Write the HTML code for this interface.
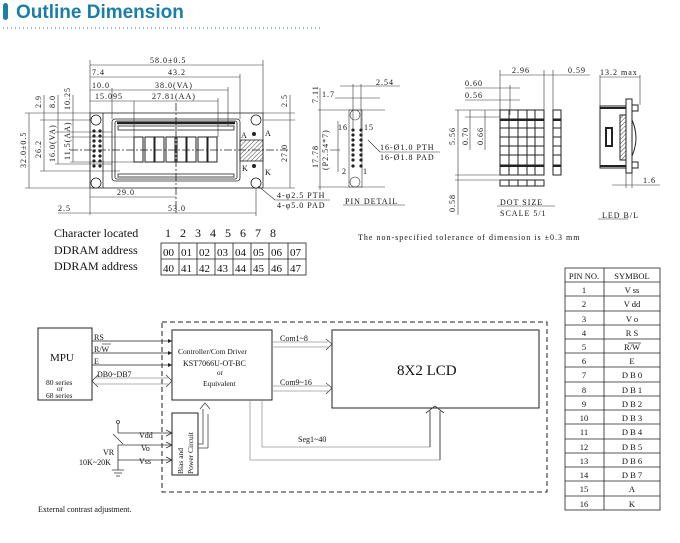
<!DOCTYPE html>
<html><head><meta charset="utf-8"><style>
html,body{margin:0;padding:0;background:#fff;width:680px;height:543px;overflow:hidden}
svg{display:block}
text{font-family:"Liberation Serif",serif;fill:#111}
.s{font-size:8px;letter-spacing:1px}
</style></head><body>
<svg width="680" height="543" viewBox="0 0 680 543" xmlns="http://www.w3.org/2000/svg">
<defs>
<marker id="ar" viewBox="0 0 6 6" refX="6" refY="3" markerWidth="5" markerHeight="5" orient="auto-start-reverse"><path d="M0,0L6,3L0,6z" fill="#222"/></marker>
<pattern id="h" width="3" height="3" patternUnits="userSpaceOnUse" patternTransform="rotate(45)"><line x1="0" y1="0" x2="0" y2="3" stroke="#444" stroke-width="1"/></pattern>
</defs>
<!-- title -->
<rect x="3" y="3" width="5" height="17" rx="2.5" fill="#1a7fa8"/>
<text x="16" y="18" style="font-family:'Liberation Sans',sans-serif;font-size:19px;font-weight:bold;fill:#1a7fa8">Outline Dimension</text>
<line x1="3" y1="28" x2="320" y2="28" stroke="#1a7fa8" stroke-dasharray="1 3"/>

<g stroke="#222" stroke-width="0.8" fill="none">
<rect x="90" y="113" width="173" height="75"/>
<rect x="112" y="119" width="128" height="62" rx="3"/>
<rect x="115" y="121" width="122" height="58" rx="2"/>
<line x1="117" y1="123" x2="235" y2="123" stroke-width="2.5"/>
<rect x="118" y="126" width="116" height="4"/>
<rect x="118" y="174" width="116" height="3"/>
<line x1="103" y1="113" x2="103" y2="188"/>
<circle cx="96" cy="120" r="5"/><circle cx="96" cy="183" r="5"/>
<circle cx="256" cy="120" r="5"/><circle cx="256" cy="183" r="5"/>
<rect x="240" y="140" width="23" height="21" fill="url(#h)"/>
<line x1="70" y1="150" x2="290" y2="150" stroke-dasharray="8 2 2 2"/>
<line x1="176" y1="103" x2="176" y2="215" stroke-dasharray="8 2 2 2"/>
</g>
<g fill="#222">
<circle cx="94" cy="136" r="1.6"/><circle cx="100" cy="136" r="1.6"/>
<circle cx="94" cy="141" r="1.6"/><circle cx="100" cy="141" r="1.6"/>
<circle cx="94" cy="146" r="1.6"/><circle cx="100" cy="146" r="1.6"/>
<circle cx="94" cy="151" r="1.6"/><circle cx="100" cy="151" r="1.6"/>
<circle cx="94" cy="156" r="1.6"/><circle cx="100" cy="156" r="1.6"/>
<circle cx="94" cy="161" r="1.6"/><circle cx="100" cy="161" r="1.6"/>
<circle cx="94" cy="166" r="1.6"/><circle cx="100" cy="166" r="1.6"/>
<circle cx="94" cy="131" r="1.6"/><circle cx="100" cy="131" r="1.6"/>
<circle cx="254" cy="134" r="2"/><circle cx="254" cy="166" r="2"/>
</g>
<g stroke="#222" stroke-width="1" fill="none">
<rect x="134" y="137" width="9" height="25"/><rect x="145" y="137" width="9" height="25"/>
<rect x="155" y="137" width="9" height="25"/><rect x="166" y="137" width="9" height="25"/>
<rect x="177" y="137" width="9" height="25"/><rect x="187" y="137" width="9" height="25"/>
<rect x="198" y="137" width="9" height="25"/><rect x="208" y="137" width="9" height="25"/>
</g>
<g stroke="#333" stroke-width="0.6">
<line x1="90" y1="60" x2="90" y2="215"/><line x1="263" y1="60" x2="263" y2="113"/>
<line x1="90" y1="65" x2="263" y2="65"/>
<line x1="90" y1="77" x2="240" y2="77"/><line x1="240" y1="74" x2="240" y2="119"/>
<line x1="90" y1="90" x2="228" y2="90"/><line x1="228" y1="87" x2="228" y2="126"/>
<line x1="90" y1="101" x2="218" y2="101"/><line x1="218" y1="98" x2="218" y2="137"/>
<line x1="134" y1="101" x2="134" y2="137"/><line x1="112" y1="88" x2="112" y2="119"/>
<line x1="90" y1="197" x2="176" y2="197"/>
<line x1="58" y1="213" x2="256" y2="213"/><line x1="256" y1="188" x2="256" y2="216"/>
<line x1="25" y1="113" x2="90" y2="113"/><line x1="25" y1="188" x2="90" y2="188"/>
<line x1="29" y1="113" x2="29" y2="188"/>
<line x1="40" y1="120" x2="90" y2="120"/><line x1="40" y1="171" x2="120" y2="171"/>
<line x1="44" y1="95" x2="44" y2="171"/>
<line x1="55" y1="132" x2="112" y2="132"/><line x1="55" y1="164" x2="112" y2="164"/>
<line x1="58" y1="95" x2="58" y2="164"/>
<line x1="70" y1="137" x2="134" y2="137"/><line x1="70" y1="162" x2="134" y2="162"/>
<line x1="73" y1="95" x2="73" y2="162"/>
<line x1="263" y1="113" x2="295" y2="113"/><line x1="263" y1="188" x2="295" y2="188"/>
<line x1="290" y1="95" x2="290" y2="188"/>
<line x1="263" y1="120" x2="295" y2="120"/>
<line x1="258" y1="186" x2="275" y2="200"/><line x1="275" y1="200" x2="330" y2="200"/>
</g>
<g class="s">
<text x="150" y="63">58.0±0.5</text>
<text x="92" y="75">7.4</text><text x="168" y="75">43.2</text>
<text x="92" y="88">10.0</text><text x="155" y="88">38.0(VA)</text>
<text x="95" y="99">15.095</text><text x="152" y="99">27.81(AA)</text>
<text x="117" y="195">29.0</text><text x="168" y="211">53.0</text>
<text x="58" y="211">2.5</text>
<text x="241" y="138">A</text><text x="265" y="136">A</text>
<text x="242" y="171">K</text><text x="265" y="175">K</text>
<text x="277" y="198">4-φ2.5 PTH</text><text x="277" y="208">4-φ5.0 PAD</text>
<text transform="translate(26,168) rotate(-90)">32.0±0.5</text>
<text transform="translate(41,158) rotate(-90)">26.2</text>
<text transform="translate(55,162) rotate(-90)">16.0(VA)</text>
<text transform="translate(70,160) rotate(-90)">11.5(AA)</text>
<text transform="translate(41,108) rotate(-90)">2.9</text>
<text transform="translate(55,108) rotate(-90)">8.0</text>
<text transform="translate(70,110) rotate(-90)">10.25</text>
<text transform="translate(287,162) rotate(-90)">27.0</text>
<text transform="translate(287,107) rotate(-90)">2.5</text>
</g>
<g stroke="#333" stroke-width="0.6" fill="none">
<rect x="349" y="110" width="13" height="77"/>
<circle cx="355" cy="115" r="5"/><circle cx="355" cy="182" r="5"/>
<line x1="318" y1="110" x2="385" y2="110"/><line x1="318" y1="187" x2="385" y2="187"/>
<line x1="320" y1="88" x2="320" y2="190"/>
<line x1="330" y1="150" x2="340" y2="150"/>
<line x1="335" y1="98" x2="380" y2="98"/><line x1="340" y1="86" x2="400" y2="86"/>
<line x1="353" y1="84" x2="353" y2="128"/><line x1="361" y1="84" x2="361" y2="128"/>
<line x1="368" y1="140" x2="380" y2="152"/><line x1="380" y1="152" x2="440" y2="152"/>
<line x1="343" y1="205" x2="405" y2="205"/>
<line x1="338" y1="121" x2="338" y2="172"/>
</g>
<g fill="#222">
<circle cx="353" cy="130" r="1.6"/><circle cx="361" cy="130" r="1.6"/>
<circle cx="353" cy="135" r="1.6"/><circle cx="361" cy="135" r="1.6"/>
<circle cx="353" cy="140" r="1.6"/><circle cx="361" cy="140" r="1.6"/>
<circle cx="353" cy="145" r="1.6"/><circle cx="361" cy="145" r="1.6"/>
<circle cx="353" cy="150" r="1.6"/><circle cx="361" cy="150" r="1.6"/>
<circle cx="353" cy="155" r="1.6"/><circle cx="361" cy="155" r="1.6"/>
<circle cx="353" cy="160" r="1.6"/><circle cx="361" cy="160" r="1.6"/>
<circle cx="353" cy="166" r="1.6"/><circle cx="361" cy="166" r="1.6"/>
</g>
<g class="s">
<text x="376" y="85">2.54</text><text x="322" y="97">1.7</text>
<text x="338" y="130">16</text><text x="364" y="130">15</text>
<text x="342" y="174">2</text><text x="363" y="174">1</text>
<text x="380" y="150">16-Ø1.0 PTH</text><text x="380" y="160">16-Ø1.8 PAD</text>
<text x="345" y="204">PIN DETAIL</text>
<text transform="translate(318,103) rotate(-90)">7.11</text>
<text transform="translate(318,168) rotate(-90)">17.78</text>
<text transform="translate(328,170) rotate(-90)">(P2.54*7)</text>
</g>
<g stroke="#222" stroke-width="1" fill="none">
<rect x="500" y="110" width="44" height="65"/>
<path d="M509,110V175M518,110V175M527,110V175M535,110V175M500,119H544M500,128H544M500,137H544M500,146H544M500,155H544M500,165H544"/>
<rect x="553" y="110" width="8" height="65"/><path d="M553,119H561M553,128H561M553,137H561M553,146H561M553,155H561M553,165H561"/>
<rect x="500" y="180" width="44" height="6"/><path d="M509,180V186M518,180V186M527,180V186M535,180V186"/>
<path d="M500,120H544M500,166H544M553,120H561M553,166H561" stroke-width="2"/>
</g>
<g stroke="#333" stroke-width="0.6" fill="none">
<line x1="500" y1="70" x2="500" y2="110"/><line x1="544" y1="70" x2="544" y2="110"/><line x1="553" y1="70" x2="553" y2="110"/>
<line x1="500" y1="75" x2="590" y2="75"/>
<line x1="465" y1="88" x2="520" y2="88"/><line x1="465" y1="100" x2="520" y2="100"/>
<line x1="510" y1="85" x2="510" y2="115"/>
<line x1="455" y1="110" x2="500" y2="110"/><line x1="455" y1="175" x2="500" y2="175"/><line x1="455" y1="180" x2="500" y2="180"/>
<line x1="470" y1="110" x2="470" y2="150"/><line x1="485" y1="110" x2="485" y2="150"/>
<line x1="465" y1="117" x2="500" y2="117"/>
<line x1="458" y1="110" x2="458" y2="215"/>
<line x1="497" y1="206" x2="555" y2="206"/>
</g>
<g class="s">
<text x="512" y="73">2.96</text><text x="568" y="73">0.59</text>
<text x="465" y="86">0.60</text><text x="465" y="98">0.56</text>
<text transform="translate(455,145) rotate(-90)">5.56</text>
<text transform="translate(468,145) rotate(-90)">0.70</text>
<text transform="translate(483,145) rotate(-90)">0.66</text>
<text transform="translate(455,212) rotate(-90)">0.58</text>
<text x="500" y="205">DOT SIZE</text><text x="500" y="216">SCALE 5/1</text>
</g>
<g stroke="#222" stroke-width="1" fill="none">
<rect x="600" y="106" width="26" height="62"/>
<line x1="600" y1="108" x2="626" y2="108" stroke-width="2"/><line x1="600" y1="166" x2="626" y2="166" stroke-width="2"/>
<rect x="606" y="128" width="6" height="18" stroke-width="2"/>
<rect x="620" y="115" width="6" height="45" fill="url(#h)"/>
<rect x="626" y="99" width="6" height="74"/>
<rect x="632" y="105" width="6" height="6"/><rect x="632" y="162" width="6" height="6"/>
<path d="M632,120Q640,138 632,156"/>
</g>
<g stroke="#333" stroke-width="0.6"><line x1="600" y1="75" x2="600" y2="106"/><line x1="640" y1="75" x2="640" y2="105"/><line x1="600" y1="77" x2="640" y2="77"/>
<line x1="626" y1="173" x2="626" y2="188"/><line x1="632" y1="173" x2="632" y2="188"/><line x1="612" y1="185" x2="660" y2="185"/><line x1="598" y1="219" x2="628" y2="219"/></g>
<g class="s"><text x="600" y="75">13.2 max</text><text x="643" y="183">1.6</text><text x="602" y="218">LED B/L</text>
<text x="358" y="240">The non-specified tolerance of dimension is ±0.3 mm</text></g>

<g style="font-size:12px">
<text x="54" y="237">Character located</text>
<text x="54" y="254">DDRAM address</text><text x="54" y="270">DDRAM address</text>
<text x="165" y="237" style="letter-spacing:9px">12345678</text>
</g>
<g stroke="#222" stroke-width="0.8" fill="none"><rect x="161" y="243" width="145" height="32"/><line x1="161" y1="259" x2="306" y2="259"/>
<path d="M179,243V275M197,243V275M215,243V275M233,243V275M251,243V275M269,243V275M288,243V275"/></g>
<g style="font-size:11px;font-family:'Liberation Sans',sans-serif">
<text x="163" y="256">00</text><text x="181" y="256">01</text><text x="199" y="256">02</text><text x="217" y="256">03</text><text x="235" y="256">04</text><text x="253" y="256">05</text><text x="271" y="256">06</text><text x="290" y="256">07</text>
<text x="163" y="272">40</text><text x="181" y="272">41</text><text x="199" y="272">42</text><text x="217" y="272">43</text><text x="235" y="272">44</text><text x="253" y="272">45</text><text x="271" y="272">46</text><text x="290" y="272">47</text>
</g>

<g stroke="#222" stroke-width="0.8" fill="none"><rect x="565" y="268" width="95" height="242"/><line x1="604" y1="268" x2="604" y2="510"/>
<path d="M565,282H660M565,296H660M565,311H660M565,325H660M565,339H660M565,353H660M565,367H660M565,382H660M565,396H660M565,410H660M565,424H660M565,439H660M565,453H660M565,467H660M565,481H660M565,496H660"/></g>
<g style="font-size:8.5px" text-anchor="middle">
<text x="584" y="279">PIN NO.</text><text x="632" y="279">SYMBOL</text>
<text x="584" y="293">1</text><text x="632" y="293">V ss</text>
<text x="584" y="307">2</text><text x="632" y="307">V dd</text>
<text x="584" y="322">3</text><text x="632" y="322">V o</text>
<text x="584" y="336">4</text><text x="632" y="336">R S</text>
<text x="584" y="350">5</text><text x="632" y="350">R/W</text>
<text x="584" y="364">6</text><text x="632" y="364">E</text>
<text x="584" y="378">7</text><text x="632" y="378">D B 0</text>
<text x="584" y="393">8</text><text x="632" y="393">D B 1</text>
<text x="584" y="407">9</text><text x="632" y="407">D B 2</text>
<text x="584" y="421">10</text><text x="632" y="421">D B 3</text>
<text x="584" y="435">11</text><text x="632" y="435">D B 4</text>
<text x="584" y="450">12</text><text x="632" y="450">D B 5</text>
<text x="584" y="464">13</text><text x="632" y="464">D B 6</text>
<text x="584" y="478">14</text><text x="632" y="478">D B 7</text>
<text x="584" y="492">15</text><text x="632" y="492">A</text>
<text x="584" y="507">16</text><text x="632" y="507">K</text>
</g>
<line x1="628" y1="343" x2="641" y2="343" stroke="#222" stroke-width="0.7"/>

<g stroke="#222" fill="none">
<rect x="38" y="328" width="54" height="72" stroke-width="1"/>
<rect x="162" y="322" width="385" height="170" stroke-width="1" stroke-dasharray="5 3"/>
<rect x="172" y="330" width="100" height="70" stroke-width="1"/>
<rect x="332" y="330" width="207" height="78" stroke-width="1"/>
<rect x="172" y="413" width="26" height="62" stroke-width="1"/>
<g stroke-width="0.8">
<line x1="92" y1="341" x2="172" y2="341" marker-end="url(#ar)"/>
<line x1="92" y1="353" x2="172" y2="353" marker-end="url(#ar)"/>
<line x1="92" y1="365" x2="172" y2="365" marker-end="url(#ar)"/>
</g>
<g stroke="#999" stroke-width="0.8">
<path d="M96,378H168M96,384H168"/>
<path d="M272,342H328M272,347H328"/><path d="M272,386H328M272,391H328"/>
</g>
<path d="M92,381L98,375M92,381L98,387M172,381L166,375M172,381L166,387" stroke="#444" stroke-width="0.8"/>
<path d="M332,344L326,339M332,344L326,350M332,388L326,383M332,388L326,394" stroke="#444" stroke-width="0.8"/>
<path d="M198,444H203V409M208,414V448M198,448H208M200,409L205,403L210,409" stroke="#444" stroke-width="0.8"/>
<g stroke-width="0.8">
<path d="M262,400V447H430V411" stroke="#999"/><path d="M250,400V460H440V411" stroke="#999"/>
<path d="M430,447V411M440,460V411M426,413L435,406L444,413" stroke="#333"/>
</g>
<g stroke-width="0.8" stroke="#333">
<path d="M118,433H172M118,445H172M118,460H172"/>
<path d="M118,424V433M118,445V460M118,460V470"/>
<circle cx="118" cy="422" r="1.5"/>
<path d="M112,470H124M114,473H122M116,476H120"/>
<path d="M113,434L123,444" />
<path d="M166,430L172,433L166,436M166,442L172,445L166,448M166,457L172,460L166,463"/>
</g>
</g>
<g style="font-family:'Liberation Serif',serif">
<text x="50" y="361" style="font-size:11px">MPU</text>
<text x="46" y="385" style="font-size:7.5px">80 series</text>
<text x="57" y="391" style="font-size:7px">or</text>
<text x="46" y="398" style="font-size:7.5px">68 series</text>
<text x="94" y="340" style="font-size:8px">RS</text>
<text x="94" y="352" style="font-size:8px">R/W</text><line x1="102" y1="344" x2="111" y2="344" stroke="#222" stroke-width="0.6"/>
<text x="94" y="364" style="font-size:8px">E</text>
<text x="97" y="377" style="font-size:8px">DB0~DB7</text>
<text x="178" y="354" style="font-size:7.5px">Controller/Com Driver</text>
<text x="183" y="366" style="font-size:8px">KST7066U-OT-BC</text>
<text x="217" y="375" style="font-size:7px">or</text>
<text x="203" y="386" style="font-size:7.5px">Equivalent</text>
<text x="280" y="341" style="font-size:8px">Com1~8</text>
<text x="280" y="385" style="font-size:8px">Com9~16</text>
<text x="298" y="442" style="font-size:8px">Seg1~40</text>
<text x="397" y="375" style="font-size:15px">8X2 LCD</text>
<text x="139" y="438" style="font-size:8px">Vdd</text>
<text x="141" y="451" style="font-size:8px">Vo</text>
<text x="139" y="464" style="font-size:8px">Vss</text>
<text x="103" y="455" style="font-size:8px">VR</text>
<text x="79" y="465" style="font-size:8px">10K~20K</text>
<text transform="translate(183,474) rotate(-90)" style="font-size:7.5px">Bias and</text>
<text transform="translate(193,474) rotate(-90)" style="font-size:7.5px">Power Circuit</text>
<text x="38" y="512" style="font-size:8px">External contrast adjustment.</text>
</g>
</svg>
</body></html>
